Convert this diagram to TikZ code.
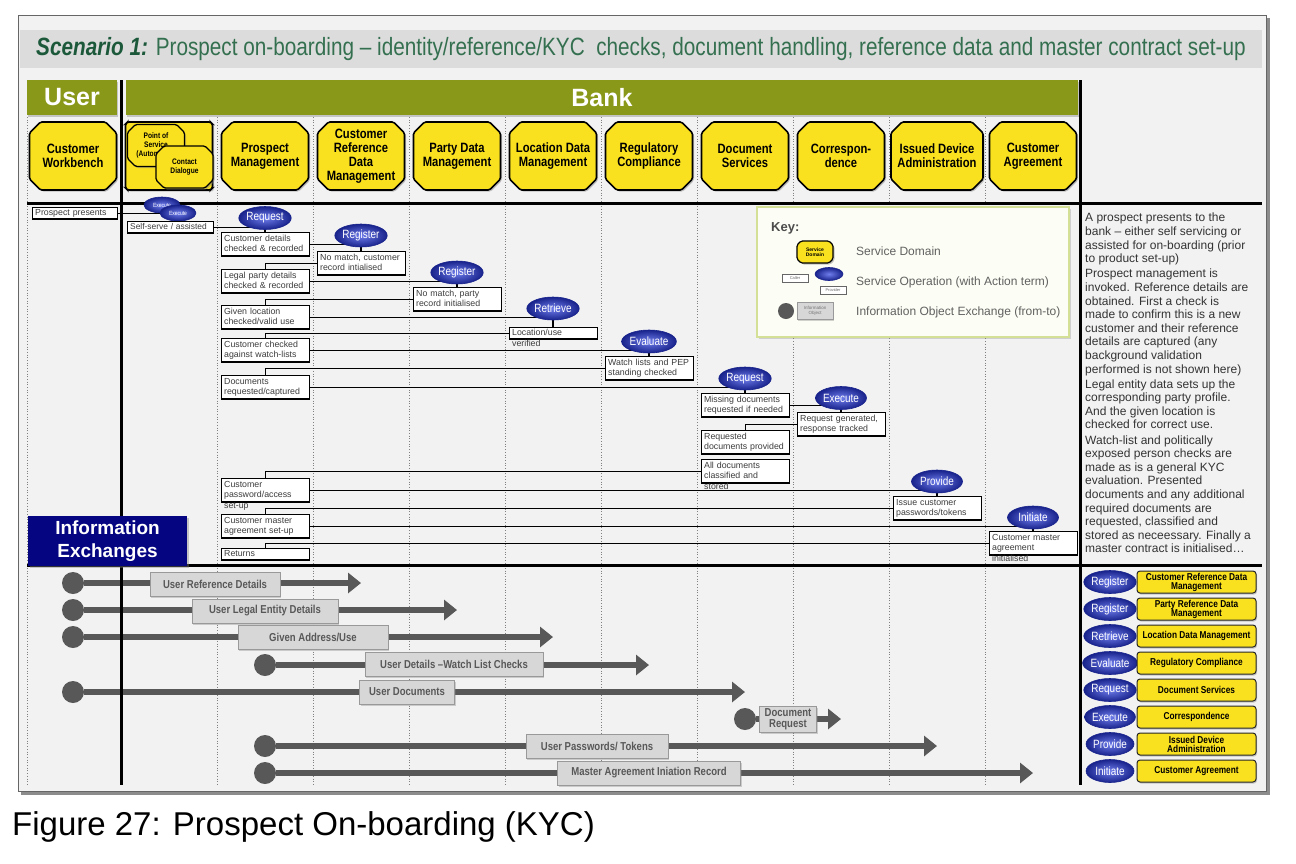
\documentclass[tikz,border=0pt]{standalone}
\usepackage{fontspec}
\setmainfont{Liberation Sans}
\newfontfamily\narrowfont[FakeStretch=0.83]{Liberation Sans}
\usetikzlibrary{shapes.misc, shapes.geometric, shadows, arrows.meta}

\definecolor{bankolive}{RGB}{138,152,26}
\definecolor{sdyellow}{RGB}{250,225,32}
\definecolor{titlegreen}{RGB}{52,112,80}
\definecolor{titledark}{RGB}{28,88,58}
\definecolor{framegray}{RGB}{242,242,242}
\definecolor{bandgray}{RGB}{220,220,220}
\definecolor{flowgray}{RGB}{88,88,88}
\definecolor{boxgray}{RGB}{215,215,215}
\definecolor{textgray}{RGB}{60,60,60}
\definecolor{iexnavy}{RGB}{5,5,130}
\definecolor{opin}{RGB}{110,125,235}
\definecolor{opout}{RGB}{25,35,140}
\definecolor{keyfill}{RGB}{252,253,244}
\definecolor{keyedge}{RGB}{212,224,150}

\newcommand{\fsz}[2]{\fontsize{#1}{#2}\selectfont}

\pgfdeclarelayer{back}
\pgfdeclarelayer{wires}
\pgfsetlayers{back,wires,main}

\tikzset{
	sdbox/.style={chamfered rectangle, chamfered rectangle sep=5.5pt, rounded corners=1.5pt, draw=black,
		line width=1.6pt, fill=sdyellow, minimum width=87pt, minimum height=68pt, inner sep=1pt, align=center,
		font=\narrowfont\bfseries\fsz{13.5}{14},
		drop shadow={shadow xshift=1.5pt, shadow yshift=-1.5pt, opacity=0.45}},
	subsdbox/.style={sdbox, chamfered rectangle sep=4pt, line width=1.3pt, minimum width=57pt,
		minimum height=42pt, font=\narrowfont\bfseries\fsz{8}{9}},
	header/.style={fill=bankolive, text=white, font=\bfseries\fsz{25}{27}, minimum height=35pt, inner sep=0pt,
		drop shadow={shadow xshift=1pt, shadow yshift=-1.5pt, opacity=0.4}},
	opball/.style={ellipse, draw=opout, line width=0.6pt, inner color=opin, outer color=opout, text=white,
		font=\narrowfont\fsz{12}{12}, minimum width=51pt, minimum height=23pt, inner sep=0pt},
	smallop/.style={opball, minimum width=36pt, minimum height=16pt, font=\narrowfont\fsz{6}{6}},
	stepnote/.style={draw=black, line width=1.3pt, fill=white, text=textgray, font=\fsz{8.8}{10.5}, align=left,
		text width=83pt, inner xsep=2.5pt, inner ysep=2pt, text height=6.8pt, text depth=12.5pt, anchor=north west},
	shortnote/.style={stepnote, inner ysep=1.2pt, text depth=2.2pt},
	wire/.style={draw=black, line width=1.3pt},
	boldline/.style={draw=black, line width=3pt},
	lanesep/.style={draw=gray, line width=0.7pt, dotted},
	flowarrow/.style={draw=flowgray, line width=6.5pt, -{Triangle[length=13pt, width=20pt]}},
	srcdot/.style={circle, fill=flowgray, minimum size=22pt, inner sep=0pt},
	infobox/.style={draw=black!40, line width=0.8pt, fill=boxgray, text=flowgray,
		font=\narrowfont\bfseries\fsz{11.5}{11}, minimum height=24pt, inner sep=1pt, align=center,
		drop shadow={shadow xshift=1pt, shadow yshift=-1.5pt, opacity=0.35}},
	legdomain/.style={rounded corners=3pt, draw=black!85, line width=1pt, fill=sdyellow, minimum width=119pt,
		minimum height=22pt, inner sep=1pt, align=center, font=\narrowfont\bfseries\fsz{10}{9},
		drop shadow={shadow xshift=1pt, shadow yshift=-1.5pt, opacity=0.4}},
	keytext/.style={anchor=west, inner sep=0pt, text=black!62, font=\fsz{12}{13}},
	keytag/.style={draw=black!60, fill=white, text=black!60, font=\fsz{4}{4}, minimum width=26pt,
		minimum height=8pt, inner sep=0.5pt}
}

\begin{document}
\begin{tikzpicture}[x=1pt, y=-1pt]
	\useasboundingbox (0,0) rectangle (1296,863);
	% Frame, title band and lanes:
	\begin{pgfonlayer}{back}
		\fill[black!45] (21,18) rectangle (1270,795);
		\filldraw[fill=framegray, draw=black!60, line width=1pt] (18,15) rectangle (1266,791);
		\fill[bandgray] (20,30) rectangle (1262,68);
		\draw[lanesep] (27,117) -- (27,785);
		\draw[lanesep] (217,117) -- (217,785);
		\draw[lanesep] (313,117) -- (313,785);
		\draw[lanesep] (409,117) -- (409,785);
		\draw[lanesep] (505,117) -- (505,785);
		\draw[lanesep] (601,117) -- (601,785);
		\draw[lanesep] (697,117) -- (697,785);
		\draw[lanesep] (793,117) -- (793,785);
		\draw[lanesep] (889,117) -- (889,785);
		\draw[lanesep] (985,117) -- (985,785);
	\end{pgfonlayer}
	\draw[boldline] (121,80) -- (121,785);
	\draw[boldline] (1080,80) -- (1080,785);
	\draw[boldline] (27,203) -- (1262,203);
	\draw[boldline] (27,565) -- (1262,565);

	\node[anchor=west, inner sep=0pt, text=titlegreen, font=\narrowfont\fsz{25}{28}] (title) at (36,49)
		{\textcolor{titledark}{\bfseries\itshape Scenario 1:} Prospect on-boarding – identity/reference/KYC\ \ checks, document handling, reference data and master contract set-up};
	\node[header, minimum width=90pt] (user) at (72,97.5) {User};
	\node[header, minimum width=952pt] (bank) at (602,97.5) {Bank};

	% Service domains:
	\node[sdbox] (cwb) at (73,156) {Customer\\Workbench};
	\node[sdbox] (pos) at (169,156) {};
	\node[subsdbox] (posa) at (156,145.5) {Point of\\Service\\(Automated)};
	\node[subsdbox] (posb) at (184.5,167) {Contact\\Dialogue};
	\node[sdbox] (pm) at (265,156) {Prospect\\Management};
	\node[sdbox] (crdm) at (361,156) {Customer\\Reference\\Data\\Management};
	\node[sdbox] (pdm) at (457,156) {Party Data\\Management};
	\node[sdbox] (ldm) at (553,156) {Location Data\\Management};
	\node[sdbox] (rc) at (649,156) {Regulatory\\Compliance};
	\node[sdbox] (ds) at (745,156) {Document\\Services};
	\node[sdbox] (corr) at (841,156) {Correspon-\\dence};
	\node[sdbox] (ida) at (937,156) {Issued Device\\Administration};
	\node[sdbox] (ca) at (1033,156) {Customer\\Agreement};

	% Activity steps and service operations:
	\node[shortnote, text width=80pt] (pp) at (32,207) {Prospect presents};
	\node[smallop] (ex1) at (162,205) {Execute};
	\node[smallop] (ex2) at (178,213) {Execute};
	\node[shortnote, text width=81pt, font=\fsz{8.4}{10}] (ss) at (127,221) {Self-serve / assisted};
	\node[opball] (rq1) at (265,218) {Request};
	\node[stepnote] (b1) at (221,232) {Customer details\\checked \& recorded};
	\node[stepnote] (b2) at (221,269) {Legal party details\\checked \& recorded};
	\node[stepnote] (b3) at (221,305) {Given location\\checked/valid use};
	\node[stepnote] (b4) at (221,338) {Customer checked\\against watch-lists};
	\node[stepnote] (b5) at (221,375) {Documents\\requested/captured};
	\node[stepnote] (b6) at (221,478) {Customer\\password/access\\set-up};
	\node[stepnote] (b7) at (221,514) {Customer master\\agreement set-up};
	\node[shortnote] (b8) at (221,548) {Returns};

	\node[opball] (rg1) at (361,235.5) {Register};
	\node[stepnote] (r1) at (317,251) {No match, customer\\record intialised};
	\node[opball] (rg2) at (457,272.5) {Register};
	\node[stepnote] (r2) at (413,287) {No match, party\\record initialised};
	\node[opball] (rt) at (553,308.5) {Retrieve};
	\node[shortnote] (r3) at (509,327) {Location/use\\verified};
	\node[opball] (ev) at (649,341.5) {Evaluate};
	\node[stepnote] (r4) at (605,356) {Watch lists and PEP\\standing checked};
	\node[opball] (rq2) at (745,378.5) {Request};
	\node[stepnote] (r5) at (701,393) {Missing documents\\requested if needed};
	\node[opball] (xc) at (841,398) {Execute};
	\node[stepnote] (r6) at (797,412) {Request generated,\\response tracked};
	\node[stepnote] (rd) at (701,430) {Requested\\documents provided};
	\node[stepnote] (ad) at (701,459) {All documents\\classified and\\stored};
	\node[opball] (pv) at (937,481.5) {Provide};
	\node[stepnote] (r7) at (893,496) {Issue customer\\passwords/tokens};
	\node[opball] (it) at (1033,517.5) {Initiate};
	\node[stepnote] (r8) at (989,531) {Customer master\\agreement\\initialised};

	% Key:
	\node[draw=keyedge, line width=1.2pt, fill=keyfill, minimum width=312pt, minimum height=130pt,
		drop shadow={shadow xshift=1.5pt, shadow yshift=-2pt, opacity=0.3}] (key) at (913,272) {};
	\node[anchor=west, inner sep=0pt, text=black!70, font=\bfseries\fsz{13}{14}] (keyt) at (771,228) {Key:};
	\node[sdbox, minimum width=36pt, minimum height=22pt, chamfered rectangle sep=2pt, line width=1.2pt,
		font=\bfseries\fsz{5}{5.5}] (keysd) at (815,252) {Service\\Domain};
	\node[keytext] (keysdt) at (856,251) {Service Domain};
	\node[keytag] (kcall) at (795,278) {Caller};
	\node[opball, minimum width=28pt, minimum height=13pt] (kop) at (829,274) {};
	\node[keytag] (kprov) at (833,290) {Provider};
	\node[keytext] (kopt) at (856,282) {Service Operation (with Action term)};
	\node[srcdot, minimum size=16pt] (ksrc) at (786,311) {};
	\coordinate (kdst) at (847,311);
	\node[infobox, font=\fsz{4.5}{5}, minimum width=36pt, minimum height=17pt, text=black!55] (kinfo) at (815,311) {Information\\Object};
	\node[keytext] (kinft) at (856,312) {Information Object Exchange (from-to)};

	% Story text:
	\node[anchor=north west, inner sep=0pt, align=left, text=black!80, font=\fsz{12}{13.6}] (story) at (1085,213)
		{A prospect presents to the\\bank – either self servicing or\\assisted for on-boarding (prior\\to product set-up)\\[1.5pt]
		Prospect management is\\invoked. Reference details are\\obtained. First a check is\\made to confirm this is a new\\customer and their reference\\details are captured (any\\background validation\\performed is not shown here)\\[1.5pt]
		Legal entity data sets up the\\corresponding party profile.\\And the given location is\\checked for correct use.\\[1.5pt]
		Watch-list and politically\\exposed person checks are\\made as is a general KYC\\evaluation. Presented\\documents and any additional\\required documents are\\requested, classified and\\stored as neceessary. Finally a\\master contract is initialised…};

	% Information exchanges:
	\node[fill=iexnavy, text=white, font=\bfseries\fsz{19}{23}, minimum width=159pt, minimum height=50pt,
		align=center, inner sep=0pt, drop shadow={shadow xshift=1.5pt, shadow yshift=-1.5pt, opacity=0.4}] (iex) at (107.5,541) {Information\\Exchanges};
	\node[srcdot] (s1) at (73,583) {};
	\coordinate (t1) at (361,583);
	\node[infobox, minimum width=130pt] (i1) at (215,584) {User Reference Details};
	\node[srcdot] (s2) at (73,610) {};
	\coordinate (t2) at (457,610);
	\node[infobox, minimum width=146pt] (i2) at (265,611) {User Legal Entity Details};
	\node[srcdot] (s3) at (73,637) {};
	\coordinate (t3) at (553,637);
	\node[infobox, minimum width=150pt] (i3) at (313,637) {Given Address/Use};
	\node[srcdot] (s4) at (265,665) {};
	\coordinate (t4) at (649,665);
	\node[infobox, minimum width=178pt] (i4) at (454,664) {User Details –Watch List Checks};
	\node[srcdot] (s5) at (73,692) {};
	\coordinate (t5) at (745,692);
	\node[infobox, minimum width=95pt] (i5) at (407,692) {User Documents};
	\node[srcdot] (s6) at (745,719) {};
	\coordinate (t6) at (841,719);
	\node[infobox, minimum width=57pt, minimum height=26pt] (i6) at (788,719) {Document\\Request};
	\node[srcdot] (s7) at (265,746) {};
	\coordinate (t7) at (937,746);
	\node[infobox, minimum width=142pt] (i7) at (597,746) {User Passwords/ Tokens};
	\node[srcdot] (s8) at (265,773) {};
	\coordinate (t8) at (1033,773);
	\node[infobox, minimum width=183pt] (i8) at (649,773) {Master Agreement Iniation Record};

	% Operation legend:
	\node[opball, minimum width=48pt] (lg1) at (1110,582) {Register};
	\node[legdomain] (ld1) at (1196.5,582) {Customer Reference Data\\Management};
	\node[opball, minimum width=48pt] (lg2) at (1110,609) {Register};
	\node[legdomain] (ld2) at (1196.5,609) {Party Reference Data\\Management};
	\node[opball, minimum width=48pt] (lg3) at (1110,636) {Retrieve};
	\node[legdomain] (ld3) at (1196.5,636) {Location Data Management};
	\node[opball, minimum width=48pt] (lg4) at (1110,663) {Evaluate};
	\node[legdomain] (ld4) at (1196.5,663) {Regulatory Compliance};
	\node[opball, minimum width=48pt] (lg5) at (1110,690) {Request};
	\node[legdomain] (ld5) at (1196.5,690) {Document Services};
	\node[opball, minimum width=48pt] (lg6) at (1110,717) {Execute};
	\node[legdomain] (ld6) at (1196.5,717) {Correspondence};
	\node[opball, minimum width=48pt] (lg7) at (1110,744) {Provide};
	\node[legdomain] (ld7) at (1196.5,744) {Issued Device\\Administration};
	\node[opball, minimum width=48pt] (lg8) at (1110,771) {Initiate};
	\node[legdomain] (ld8) at (1196.5,771) {Customer Agreement};

	\node[anchor=base west, inner sep=0pt, font=\fsz{33}{36}] (caption) at (12,835) {Figure 27: Prospect On-boarding (KYC)};

	% Wires and exchange arrows:
	\begin{pgfonlayer}{wires}
		\draw[wire] (pp.east) -- (pp.east -| ex2.center);
		\draw[wire] (ex2) -- (ex2 |- ss.north);
		\draw[wire] (ss.east) -- (ss.east -| rq1.center);
		\draw[wire] (rq1) -- (rq1 |- b1.north);
		\draw[wire] (b1.east) -- (b1.east -| rg1.center);
		\draw[wire] (rg1) -- (rg1 |- r1.north);
		\draw[wire] (b2.north) |- (r1.west);
		\draw[wire] (b2.east) -- (b2.east -| rg2.center);
		\draw[wire] (rg2) -- (rg2 |- r2.north);
		\draw[wire] (b3.north) |- (r2.west);
		\draw[wire] (b3.east) -- (b3.east -| rt.center);
		\draw[wire] (rt) -- (rt |- r3.north);
		\draw[wire] (b4.north) |- (r3.west);
		\draw[wire] (b4.east) -- (b4.east -| ev.center);
		\draw[wire] (ev) -- (ev |- r4.north);
		\draw[wire] (b5.north) |- (r4.west);
		\draw[wire] (b5.east) -- (b5.east -| rq2.center);
		\draw[wire] (rq2) -- (rq2 |- r5.north);
		\draw[wire] (r5.east) -- (r5.east -| xc.center);
		\draw[wire] (xc) -- (xc |- r6.north);
		\draw[wire] (rd.north) |- (r6.west);
		\draw[wire] (b6.north) |- (ad.west);
		\draw[wire] (b6.east) -- (b6.east -| pv.center);
		\draw[wire] (pv) -- (pv |- r7.north);
		\draw[wire] (b7.north) |- (r7.west);
		\draw[wire] (b7.east) -- (b7.east -| it.center);
		\draw[wire] (it) -- (it |- r8.north);
		\draw[wire] (b8.north) |- (r8.west);
		\draw[line width=0.8pt] (kcall.east) -- (kop);
		\draw[line width=0.8pt] (kop) -- (kprov.north);
		\draw[flowarrow, line width=4pt, -{Triangle[length=8pt, width=12pt]}] (ksrc) -- (kdst);
		\draw[flowarrow] (s1) -- (t1);
		\draw[flowarrow] (s2) -- (t2);
		\draw[flowarrow] (s3) -- (t3);
		\draw[flowarrow] (s4) -- (t4);
		\draw[flowarrow] (s5) -- (t5);
		\draw[flowarrow] (s6) -- (t6);
		\draw[flowarrow] (s7) -- (t7);
		\draw[flowarrow] (s8) -- (t8);
	\end{pgfonlayer}
\end{tikzpicture}
\end{document}
